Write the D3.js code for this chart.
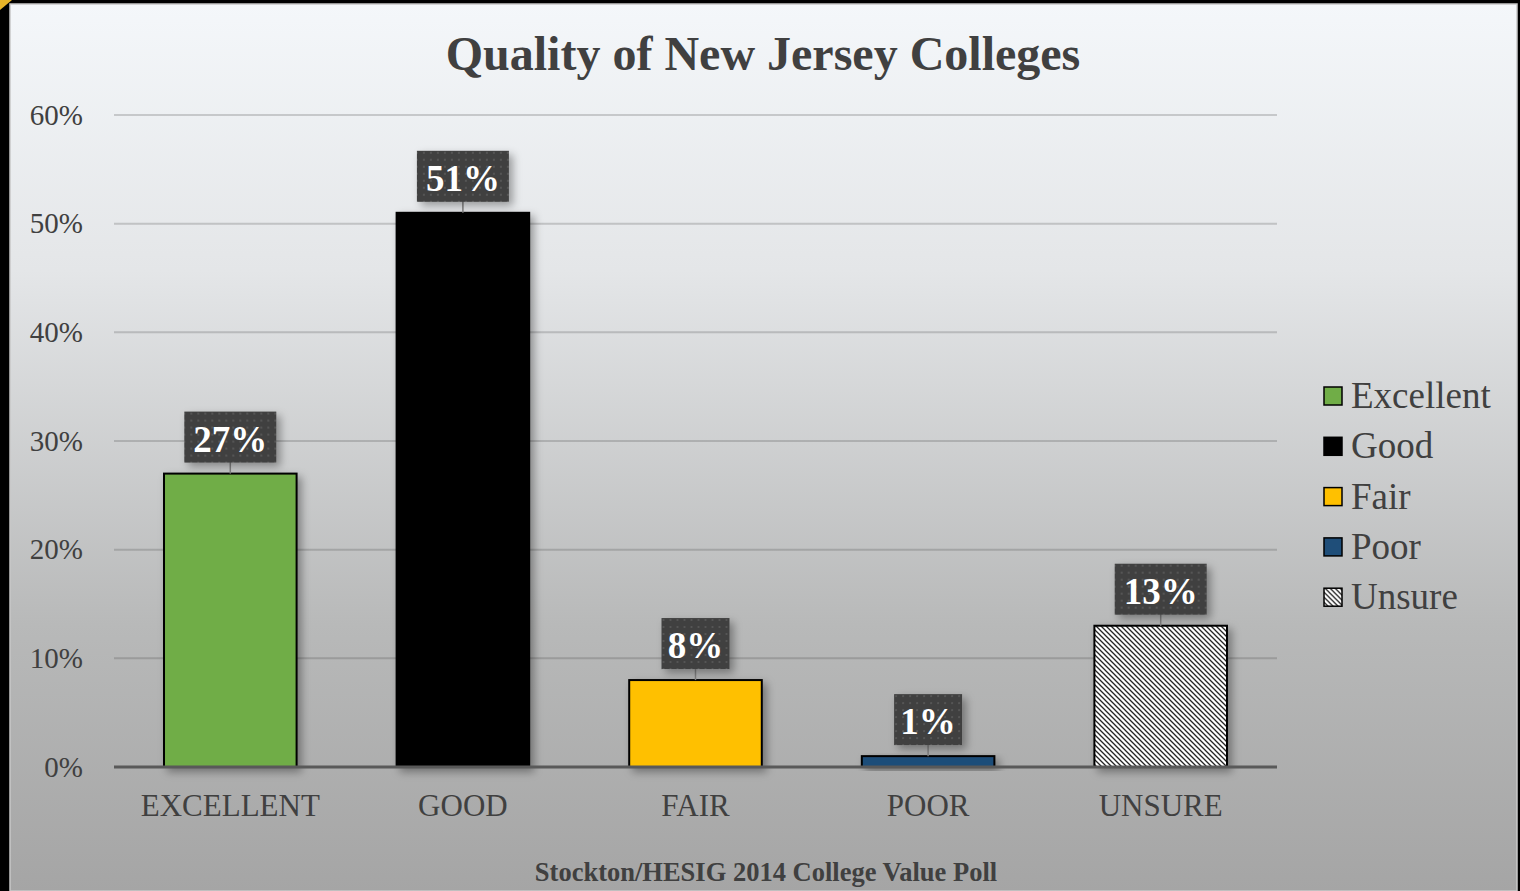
<!DOCTYPE html>
<html>
<head>
<meta charset="utf-8">
<script src="https://cdn.jsdelivr.net/npm/d3@7"></script>
<style>
  body { margin: 0; background: #000; }
  svg { display: block; }
</style>
</head>
<body>
<svg id="chart"></svg>
<script>
// data
var categories = ["EXCELLENT", "GOOD", "FAIR", "POOR", "UNSURE"];
var legendNames = ["Excellent", "Good", "Fair", "Poor", "Unsure"];
var values = [27, 51, 8, 1, 13];
var yTicks = [0, 10, 20, 30, 40, 50, 60];
var barColors = ["#70ad47", "#000000", "#ffc000", "#1f4e79", "url(#hatch)"];

var W = 1520, H = 891;
var svg = d3.select("#chart").attr("width", W).attr("height", H);
var defs = svg.append("defs");

// background gradient
var grad = defs.append("linearGradient").attr("id", "bg")
    .attr("x1", 0).attr("y1", 0).attr("x2", 0).attr("y2", 1);
grad.append("stop").attr("offset", "0%").attr("stop-color", "#f4f7fa");
grad.append("stop").attr("offset", "30%").attr("stop-color", "#e4e6e8");
grad.append("stop").attr("offset", "70%").attr("stop-color", "#b8b9b9");
grad.append("stop").attr("offset", "100%").attr("stop-color", "#a5a5a5");

// hatch for unsure
var hatch = defs.append("pattern").attr("id", "hatch")
    .attr("patternUnits", "userSpaceOnUse").attr("width", 5).attr("height", 5);
hatch.append("rect").attr("width", 5).attr("height", 5).attr("fill", "#fff");
hatch.append("path").attr("d", "M0,0 L5,5 M-1,4 L1,6 M4,-1 L6,1")
    .attr("stroke", "#262626").attr("stroke-width", 1.3);

// dotted label background
var dots = defs.append("pattern").attr("id", "dots")
    .attr("patternUnits", "userSpaceOnUse").attr("width", 7).attr("height", 7);
dots.append("rect").attr("width", 7).attr("height", 7).attr("fill", "#404040");
dots.append("rect").attr("x", 2).attr("y", 2).attr("width", 2).attr("height", 2).attr("fill", "#555");

// shadow
var sh = defs.append("filter").attr("id", "shadow")
    .attr("x", "-20%").attr("y", "-20%").attr("width", "150%").attr("height", "150%");
sh.append("feDropShadow").attr("dx", 4).attr("dy", 4).attr("stdDeviation", 4)
    .attr("flood-color", "#000").attr("flood-opacity", 0.35);

// frame
svg.append("rect").attr("width", W).attr("height", H).attr("fill", "#000");
svg.append("rect").attr("x", 10).attr("y", 4).attr("width", 1507).attr("height", H - 4)
    .attr("fill", "url(#bg)").attr("stroke", "#c8c8c8").attr("stroke-width", 1.5);
svg.append("path").attr("d", "M0,0 L12,0 L0,10 Z").attr("fill", "#e8b428");

var plotLeft = 114, plotRight = 1277, plotTop = 115, plotBottom = 767;

var x = d3.scaleBand().domain(categories).range([plotLeft, plotRight]).paddingInner(0.43).paddingOuter(0.215);
var y = d3.scaleLinear().domain([0, 60]).range([plotBottom, plotTop]);

var font = "'Liberation Serif', 'Times New Roman', serif";

// gridlines
svg.append("g")
    .selectAll("line").data(yTicks.slice(1)).enter().append("line")
    .attr("x1", plotLeft).attr("x2", plotRight)
    .attr("y1", function(d) { return y(d); }).attr("y2", function(d) { return y(d); })
    .attr("stroke", "#3a3a3a").attr("stroke-opacity", 0.22).attr("stroke-width", 2);

// y axis
var yAxis = svg.append("g")
    .attr("transform", "translate(" + plotLeft + ",0)")
    .call(d3.axisLeft(y).tickValues(yTicks).tickFormat(function(d) { return d + "%"; }).tickSize(0).tickPadding(31));
yAxis.select(".domain").remove();
yAxis.selectAll("text").attr("font-family", font).attr("font-size", 29).attr("fill", "#404040");

// bars
svg.append("g").selectAll("rect").data(values).enter().append("rect")
    .attr("x", function(d, i) { return x(categories[i]); })
    .attr("y", function(d) { return y(d); })
    .attr("width", x.bandwidth())
    .attr("height", function(d) { return y(0) - y(d); })
    .attr("fill", function(d, i) { return barColors[i]; })
    .attr("stroke", "#000").attr("stroke-width", 2)
    .attr("filter", "url(#shadow)");

// x axis
var xAxis = svg.append("g")
    .attr("transform", "translate(0," + plotBottom + ")")
    .call(d3.axisBottom(x).tickSize(0).tickPadding(27));
xAxis.select(".domain").attr("stroke", "#595959").attr("stroke-width", 3)
    .attr("d", "M" + plotLeft + ",0H" + plotRight);
xAxis.selectAll("text").attr("font-family", font).attr("font-size", 31).attr("fill", "#404040");

// data labels
var lab = svg.append("g").selectAll("g").data(values).enter().append("g")
    .attr("transform", function(d, i) {
        return "translate(" + (x(categories[i]) + x.bandwidth() / 2) + "," + y(d) + ")";
    });
lab.append("line").attr("x1", 0).attr("x2", 0).attr("y1", -12).attr("y2", 0)
    .attr("stroke", "#808080").attr("stroke-width", 1.5);
lab.append("rect")
    .attr("x", function(d) { return d < 10 ? -34 : -46; })
    .attr("width", function(d) { return d < 10 ? 68 : 92; })
    .attr("y", -62).attr("height", 51)
    .attr("fill", "url(#dots)").attr("filter", "url(#shadow)");
lab.append("text").attr("x", 0).attr("y", -22)
    .attr("text-anchor", "middle")
    .attr("font-family", font).attr("font-weight", "bold").attr("font-size", 37)
    .attr("fill", "#fff")
    .text(function(d) { return d + "%"; });

// title
svg.append("text").attr("x", 763).attr("y", 70).attr("text-anchor", "middle")
    .attr("font-family", font).attr("font-weight", "bold").attr("font-size", 48)
    .attr("fill", "#404040").text("Quality of New Jersey Colleges");

// source
svg.append("text").attr("x", 766).attr("y", 881).attr("text-anchor", "middle")
    .attr("font-family", font).attr("font-weight", "bold").attr("font-size", 26.5)
    .attr("fill", "#404040").text("Stockton/HESIG 2014 College Value Poll");

// legend
var leg = svg.append("g").selectAll("g").data(legendNames).enter().append("g")
    .attr("transform", function(d, i) { return "translate(1324," + (396 + i * 50.3) + ")"; });
leg.append("rect").attr("x", 0).attr("y", -9).attr("width", 18).attr("height", 18)
    .attr("fill", function(d, i) { return barColors[i]; })
    .attr("stroke", "#000").attr("stroke-width", 1.5);
leg.append("text").attr("x", 27).attr("y", 12)
    .attr("font-family", font).attr("font-size", 37).attr("fill", "#404040")
    .text(function(d) { return d; });
</script>
</body>
</html>
